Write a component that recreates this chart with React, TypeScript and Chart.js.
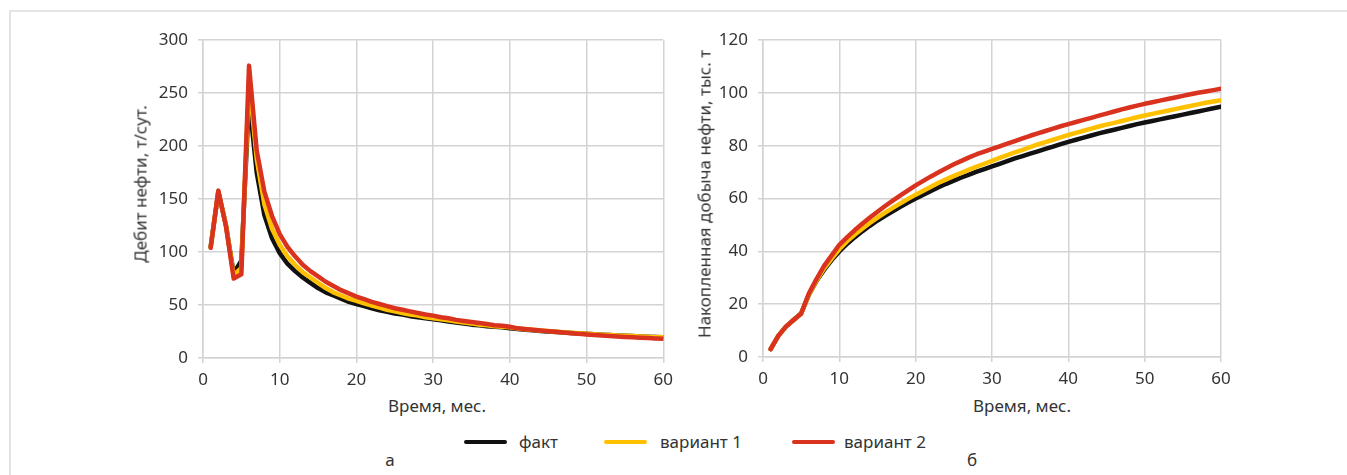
import React, { useEffect, useRef } from "react";
import { Chart, registerables } from "chart.js";
Chart.register(...registerables);

const months = [1,2,3,4,5,6,7,8,9,10,11,12,13,14,15,16,17,18,19,20,21,22,23,24,25,26,27,28,29,30,31,32,33,34,35,36,37,38,39,40,41,42,43,44,45,46,47,48,49,50,51,52,53,54,55,56,57,58,59,60];

const seriesNames = ["факт", "вариант 1", "вариант 2"];

const factRate = [105,157,125,80,92,245,175,135,113,99,89,82,76,71,66,62,59,56,53,51,49,47,45,43.5,42,41,39.5,38.5,37.5,36.5,35.5,34.5,33.5,32.5,31.5,31,30,29.5,29,28,27.3,26.7,26.1,25.6,25.1,24.6,24.1,23.6,23.2,22.8,22.4,22,21.6,21.3,21,20.7,20.4,20.1,19.8,19.5];
const var1Rate = [105,157,125,78,85,262,188,145,122,107,96,88,81,76,71,66,62,59,56,54,51.5,49.5,47.5,45.5,44,42.5,41,40,38.5,37.5,36.5,35.5,34.5,33.5,32.5,31.5,31,30,29.5,29,27.8,27.2,26.6,26,25.4,24.8,24.3,23.8,23.3,22.8,22.4,22,21.6,21.3,21,20.7,20.4,20.1,19.9,19.7];
const var2Rate = [104,158,124,75,79,276,196,157,134,117,105,96,88,82,77,72,68,64,61,58,55.5,53,51,49,47,45.5,44,42.5,41,40,38.5,37.5,36,35,34,33,32,31,30.5,29.5,28,27.3,26.6,26,25.3,24.7,24,23.4,22.8,22.2,21.7,21.2,20.7,20.3,19.9,19.5,19.1,18.8,18.5,18.1];

const factCum = [3,8,11.5,14,16.5,23.5,28.8,33,36.7,40,42.8,45.3,47.6,49.7,51.7,53.5,55.2,56.9,58.5,60,61.5,62.9,64.3,65.6,66.8,68,69.1,70.2,71.2,72.2,73.2,74.2,75.2,76.1,77,77.9,78.8,79.7,80.6,81.5,82.3,83.1,83.9,84.7,85.4,86.1,86.8,87.5,88.2,88.8,89.4,90,90.6,91.2,91.8,92.4,93,93.6,94.2,94.8];
const var1Cum = [3,8,11.5,14,16.5,23.5,29,33.5,37.3,40.8,43.8,46.3,48.6,50.8,52.8,54.7,56.5,58.2,59.9,61.5,63,64.5,66,67.3,68.6,69.8,71,72.1,73.2,74.3,75.4,76.5,77.5,78.5,79.5,80.5,81.4,82.3,83.2,84.1,84.9,85.7,86.5,87.3,88,88.7,89.4,90.1,90.8,91.5,92.1,92.7,93.3,93.9,94.5,95.1,95.7,96.3,96.8,97.3];
const var2Cum = [3,8,11.5,14,16.5,24,29.5,34.5,38.5,42.5,45.3,48,50.5,52.8,55,57.2,59.2,61.2,63.1,65,66.7,68.4,70,71.5,73,74.3,75.6,76.8,77.8,78.8,79.8,80.8,81.8,82.8,83.8,84.7,85.6,86.5,87.4,88.2,89,89.8,90.6,91.4,92.2,93,93.8,94.5,95.2,95.9,96.5,97.1,97.7,98.3,98.9,99.5,100.1,100.6,101.1,101.6];

const xTicks = { min: 0, max: 60, step: 10 };
const rateTicks = { min: 0, max: 300, step: 50 };
const cumTicks = { min: 0, max: 120, step: 20 };

const COLORS = ["#111111", "#ffc000", "#d9321e"];
const FONT = '"Noto Sans", sans-serif';
const TEXT = "#333333";
const GRID = "#d3d3d3";

function buildConfig(series: number[][], yT: any, pad: any, xH: number) {
  const datasets = series.map((arr, i) => ({
    label: seriesNames[i],
    data: months.map((m, j) => ({ x: m, y: arr[j] })),
    borderColor: COLORS[i],
    backgroundColor: COLORS[i],
    borderWidth: 4.5,
    pointRadius: 0,
    tension: 0,
    borderJoinStyle: "round",
    borderCapStyle: "round",
    order: 2 - i,
  }));
  return {
    type: "line",
    data: { datasets },
    options: {
      animation: false,
      responsive: false,
      devicePixelRatio: 1,
      layout: { padding: pad },
      plugins: { legend: { display: false }, tooltip: { enabled: false } },
      scales: {
        x: {
          type: "linear",
          min: xTicks.min,
          max: xTicks.max,
          ticks: { stepSize: xTicks.step, padding: 7, color: TEXT, font: { family: FONT, size: 17 } },
          grid: { color: GRID, lineWidth: 1.5, tickLength: 5 },
          border: { color: GRID, width: 1.5 },
          afterFit: (s: any) => { s.height = xH; },
        },
        y: {
          min: yT.min,
          max: yT.max,
          ticks: { stepSize: yT.step, padding: 10, color: TEXT, font: { family: FONT, size: 17 } },
          grid: { color: GRID, lineWidth: 1.5, tickLength: 5 },
          border: { color: GRID, width: 1.5 },
          afterFit: (s: any) => { s.width = 83; },
        },
      },
    },
  };
}

function ChartCanvas({ config, left, top, width, height }: any) {
  const ref = useRef<HTMLCanvasElement>(null);
  useEffect(() => {
    const chart = new Chart(ref.current as HTMLCanvasElement, config as any);
    return () => chart.destroy();
  }, []);
  return (
    <canvas
      ref={ref}
      width={width}
      height={height}
      style={{ position: "absolute", left, top, width, height }}
    />
  );
}

const textStyle: any = { position: "absolute", fontFamily: FONT, fontSize: 17, color: TEXT, whiteSpace: "nowrap", lineHeight: 1 };

export default function App() {
  const leftCfg = buildConfig([factRate, var1Rate, var2Rate], rateTicks, { top: 15, right: 15, left: 0, bottom: 0 }, 32);
  const rightCfg = buildConfig([factCum, var1Cum, var2Cum], cumTicks, { top: 16, right: 19, left: 0, bottom: 0 }, 33);
  const legendItems = [
    { line: 464, text: 519 },
    { line: 604, text: 660 },
    { line: 792, text: 844 },
  ];
  return (
    <div style={{ position: "absolute", left: 0, top: 0, width: 1347, height: 475, background: "#fff", overflow: "hidden" }}>
      <div style={{ position: "absolute", left: 9, top: 10, width: 1400, height: 500, borderTop: "2px solid #e4e4e4", borderLeft: "2px solid #e4e4e4" }} />
      <ChartCanvas config={leftCfg} left={120} top={20} width={560} height={370} />
      <ChartCanvas config={rightCfg} left={680} top={20} width={560} height={370} />
      <div style={{ ...textStyle, left: 140, top: 184, transform: "translate(-50%,-50%) rotate(-90deg)" }}>Дебит нефти, т/сут.</div>
      <div style={{ ...textStyle, left: 704, top: 194, transform: "translate(-50%,-50%) rotate(-90deg)" }}>Накопленная добыча нефти, тыс. т</div>
      <div style={{ ...textStyle, left: 437, top: 405, transform: "translate(-50%,-50%)" }}>Время, мес.</div>
      <div style={{ ...textStyle, left: 1022, top: 405, transform: "translate(-50%,-50%)" }}>Время, мес.</div>
      {legendItems.map((it, i) => (
        <React.Fragment key={i}>
          <div style={{ position: "absolute", left: it.line, top: 440, width: 43, height: 4, borderRadius: 2, background: COLORS[i] }} />
          <div style={{ ...textStyle, left: it.text, top: 441, transform: "translateY(-50%)" }}>{seriesNames[i]}</div>
        </React.Fragment>
      ))}
      <div style={{ ...textStyle, left: 390, top: 459, transform: "translate(-50%,-50%)" }}>а</div>
      <div style={{ ...textStyle, left: 972, top: 459, transform: "translate(-50%,-50%)" }}>б</div>
    </div>
  );
}
